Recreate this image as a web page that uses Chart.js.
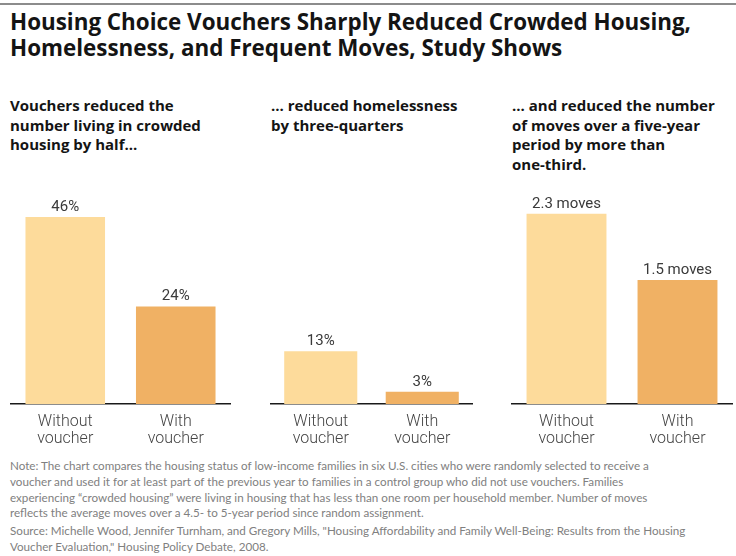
<!DOCTYPE html>
<html>
<head>
<meta charset="utf-8">
<script src="https://cdn.jsdelivr.net/npm/chart.js@4.4.1/dist/chart.umd.min.js"></script>
<style>
body { margin: 0; width: 736px; height: 556px; background: #fff; position: relative; overflow: hidden; font-family: "Open Sans", sans-serif; }
.rule { position: absolute; left: 0; top: 3px; width: 736px; height: 2px; background: #8c8c8c; }
h1 { position: absolute; left: 10px; top: 9px; margin: 0; font-size: 22.4px; font-weight: 700; line-height: 26px; color: #141414; white-space: nowrap; }
.sub { position: absolute; top: 96px; font-weight: 700; font-size: 15px; line-height: 19.6px; color: #141414; white-space: nowrap; }
.panel { position: absolute; top: 160px; height: 295px; }
.note { position: absolute; left: 10px; font-family: Lato, sans-serif; font-size: 11.65px; line-height: 15.8px; color: #808080; white-space: nowrap; }
</style>
</head>
<body>
<div class="rule"></div>
<h1>Housing Choice Vouchers Sharply Reduced Crowded Housing,<br>Homelessness, and Frequent Moves, Study Shows</h1>

<div class="sub" style="left:10px">Vouchers reduced the<br>number living in crowded<br>housing by half...</div>
<div class="sub" style="left:271px">... reduced homelessness<br>by three-quarters</div>
<div class="sub" style="left:512px">... and reduced the number<br>of moves over a five-year<br>period by more than<br>one-third.</div>

<div class="panel" style="left:10px;width:221px"><canvas id="c1"></canvas></div>
<div class="panel" style="left:270px;width:203px"><canvas id="c2"></canvas></div>
<div class="panel" style="left:511px;width:222px"><canvas id="c3"></canvas></div>

<div class="note" style="top:458px">Note: The chart compares the housing status of low-income families in six U.S. cities who were randomly selected to receive a<br>voucher and used it for at least part of the previous year to families in a control group who did not use vouchers. Families<br>experiencing “crowded housing” were living in housing that has less than one room per household member. Number of moves<br>reflects the average moves over a 4.5- to 5-year period since random assignment.</div>
<div class="note" style="top:523px">Source: Michelle Wood, Jennifer Turnham, and Gregory Mills, "Housing Affordability and Family Well-Being: Results from the Housing<br>Voucher Evaluation," Housing Policy Debate, 2008.</div>

<script>
var categorias = [['Without', 'voucher'], ['With', 'voucher']]
var hacinamiento = [46, 24]
var sinHogar = [13, 3]
var mudanzas = [2.3, 1.5]
var etiquetasHacinamiento = ['46%', '24%']
var etiquetasSinHogar = ['13%', '3%']
var etiquetasMudanzas = ['2.3 moves', '1.5 moves']

var colores = ['rgb(253, 219, 155)', 'rgb(240, 177, 100)']

// dibuja el valor encima de cada barra
var etiquetasPlugin = {
    id: 'etiquetas',
    afterDatasetsDraw: function (chart, args, opts) {
        var ctx = chart.ctx
        var meta = chart.getDatasetMeta(0)
        ctx.save()
        ctx.font = '15px Roboto'
        ctx.fillStyle = '#3a3a3a'
        ctx.textAlign = 'center'
        ctx.textBaseline = 'alphabetic'
        meta.data.forEach(function (bar, i) {
            ctx.fillText(opts.textos[i], bar.x, bar.y - 6)
        })
        ctx.restore()
    }
}

function charBar(idDiv, datos, textos, maximo) {
    var ctx = document.getElementById(idDiv).getContext('2d')
    return new Chart(ctx, {
        type: 'bar',
        data: {
            labels: categorias,
            datasets: [{
                data: datos,
                backgroundColor: colores,
                borderWidth: 0,
                barPercentage: 0.72,
                categoryPercentage: 1
            }]
        },
        options: {
            responsive: true,
            maintainAspectRatio: false,
            animation: false,
            layout: { padding: 0 },
            plugins: {
                legend: { display: false },
                tooltip: { enabled: false },
                etiquetas: { textos: textos }
            },
            scales: {
                x: {
                    grid: { display: false },
                    border: { display: true, color: '#1a1a1a', width: 1.5 },
                    ticks: {
                        color: '#444',
                        padding: 2,
                        font: { family: 'Roboto', size: 16, weight: 300, lineHeight: 1.05 }
                    },
                    afterFit: function (scale) { scale.height = 51 }
                },
                y: {
                    display: false,
                    beginAtZero: true,
                    min: 0,
                    max: maximo
                }
            }
        },
        plugins: [etiquetasPlugin]
    })
}

charBar('c1', hacinamiento, etiquetasHacinamiento, 60)
charBar('c2', sinHogar, etiquetasSinHogar, 60)
charBar('c3', mudanzas, etiquetasMudanzas, 2.95)
</script>
</body>
</html>
